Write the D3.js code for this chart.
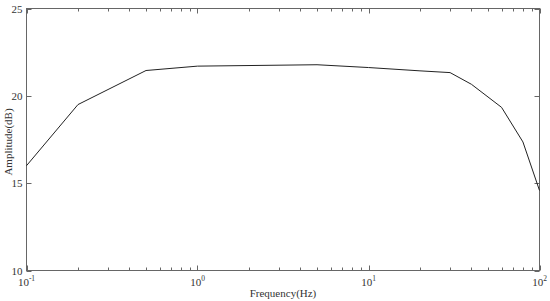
<!DOCTYPE html>
<html><head><meta charset="utf-8">
<script src="https://cdn.jsdelivr.net/npm/d3@7"></script>
<style>body{margin:0;background:#fff}svg{display:block}text{font-family:"Liberation Serif","Times New Roman",serif;fill:#333}</style>
</head><body><svg id="c" width="550" height="301"></svg>
<script>
const freq = [0.1, 0.2, 0.5, 1, 5, 10, 20, 30, 40, 60, 80, 100];
const amp  = [16.0, 19.5, 21.45, 21.7, 21.78, 21.62, 21.43, 21.33, 20.66, 19.34, 17.36, 14.58];
const yTicks = [10, 15, 20, 25];
const xMajor = [0.1, 1, 10, 100];
const xExp = ["-1", "0", "1", "2"];

const svg = d3.select("#c");
const L = 26.5, R = 539.5, T = 8.5, B = 270.5;
const x = d3.scaleLog().domain([0.1, 100]).range([L, R]);
const y = d3.scaleLinear().domain([10, 25]).range([B, T]);
const ax = "#666";

const minor = [];
for (let d = 0.1; d < 100; d *= 10) for (let k = 2; k <= 9; k++) minor.push(d * k);

const g = svg.append("g");
g.append("rect").attr("x", L).attr("y", T).attr("width", R - L).attr("height", B - T)
  .attr("fill", "none").attr("stroke", ax).attr("stroke-width", 1);

[[B, -1], [T, 1]].forEach(([yy, dir]) => {
  g.selectAll(null).data(minor).enter().append("line")
    .attr("x1", d => Math.round(x(d)) + 0.5).attr("x2", d => Math.round(x(d)) + 0.5)
    .attr("y1", yy).attr("y2", yy + dir * 3).attr("stroke", ax);
  g.selectAll(null).data(xMajor).enter().append("line")
    .attr("x1", d => Math.round(x(d)) + 0.5).attr("x2", d => Math.round(x(d)) + 0.5)
    .attr("y1", yy).attr("y2", yy + dir * 5).attr("stroke", ax);
});
[[L, 1], [R, -1]].forEach(([xx, dir]) => {
  g.selectAll(null).data(yTicks).enter().append("line")
    .attr("y1", d => Math.round(y(d)) + 0.5).attr("y2", d => Math.round(y(d)) + 0.5)
    .attr("x1", xx).attr("x2", xx + dir * 5).attr("stroke", ax);
});

g.selectAll(null).data(yTicks).enter().append("text")
  .attr("x", L - 4).attr("y", d => y(d) + 4).attr("text-anchor", "end")
  .attr("font-size", 11).text(d => d);

xMajor.forEach((d, i) => {
  const t = g.append("text").attr("x", x(d)).attr("y", 286).attr("text-anchor", "middle").attr("font-size", 11);
  t.append("tspan").text("10");
  t.append("tspan").attr("dy", -5).attr("font-size", 7.5).text(xExp[i]);
});

g.append("text").attr("x", 283).attr("y", 297).attr("text-anchor", "middle")
  .attr("font-size", 11).text("Frequency(Hz)");
g.append("text").attr("transform", `translate(12,142) rotate(-90)`)
  .attr("text-anchor", "middle").attr("font-size", 11).text("Amplitude(dB)");

const data = freq.map((f, i) => [f, amp[i]]);
g.append("path").datum(data).attr("fill", "none").attr("stroke", "#222").attr("stroke-width", 1)
  .attr("d", d3.line().x(d => x(d[0])).y(d => y(d[1])));
</script></body></html>
